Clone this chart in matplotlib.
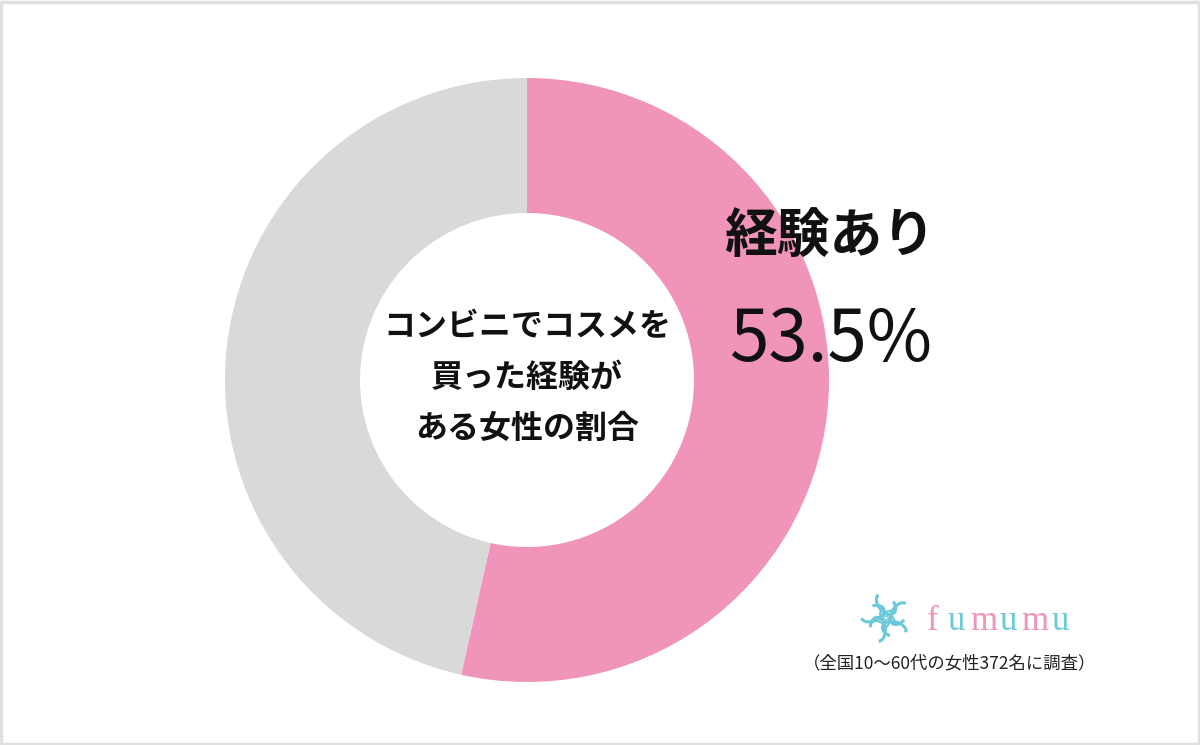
import matplotlib
matplotlib.use("Agg")
import matplotlib.pyplot as plt
from matplotlib.patches import Arc, Rectangle
import numpy as np

plt.rcParams['font.family'] = ['Noto Sans CJK JP', 'DejaVu Sans']

# Data
labels = ["経験あり", "経験なし"]
values = [53.5, 46.5]
colors = ["#F094BA", "#D9D9D9"]
center_title = "コンビニでコスメを\n買った経験が\nある女性の割合"
highlight_label = labels[0]
highlight_value = "53.5%"
footnote = "（全国10〜60代の女性372名に調査）"
logo_chars = list("fumumu")
logo_colors = ["#F094BA", "#6CC9D9", "#F094BA", "#6CC9D9", "#F094BA", "#6CC9D9"]
logo_x = [933, 956, 984, 1008, 1035, 1060]

W, H = 1200, 745
fig = plt.figure(figsize=(W / 100, H / 100), dpi=100)
ax = fig.add_axes([0, 0, 1, 1])

# Donut
cx, cy = 527, H - 380
ax.pie(values, colors=colors, startangle=90, counterclock=False,
       center=(cx, cy), radius=302, frame=True,
       wedgeprops=dict(width=135, linewidth=0))
ax.set_xlim(0, W)
ax.set_ylim(0, H)
ax.set_aspect("equal")
ax.axis("off")

# light frame
ax.add_patch(Rectangle((1, 1), W - 2.5, H - 2.5, fill=False, edgecolor="#E0E0E0", linewidth=2.5))

ax.text(cx, cy + 2, center_title, ha="center", va="center", fontsize=23,
        fontweight="bold", linespacing=1.75, color="#111111")

ax.text(830, H - 237, highlight_label, ha="center", va="center",
        fontsize=38, fontweight="bold", color="#111111")
ax.text(831, H - 340, highlight_value, ha="center", va="center",
        fontsize=51, color="#111111")

# logo icon (rough swirl)
lx, ly = 886, H - 618
for k in range(5):
    a = np.deg2rad(90 + k * 72)
    px, py = lx + 14 * np.cos(a), ly + 14 * np.sin(a)
    ax.add_patch(Arc((px, py), 24, 15, angle=np.rad2deg(a) + 40, theta1=0, theta2=250,
                     color="#6CC9D9", linewidth=2.2))
    ax.add_patch(Arc((lx + 5 * np.cos(a + 0.6), ly + 5 * np.sin(a + 0.6)), 10, 6,
                     angle=np.rad2deg(a), theta1=0, theta2=200, color="#6CC9D9", linewidth=1.6))

# logo text
for ch, c, x in zip(logo_chars, logo_colors, logo_x):
    ax.text(x, H - 630, ch, ha="center", va="baseline", fontsize=25,
            family="Liberation Serif", color=c)

ax.text(950, H - 663, footnote, ha="center", va="center", fontsize=12.5, color="#222222")

fig.savefig("out.png", dpi=100)
